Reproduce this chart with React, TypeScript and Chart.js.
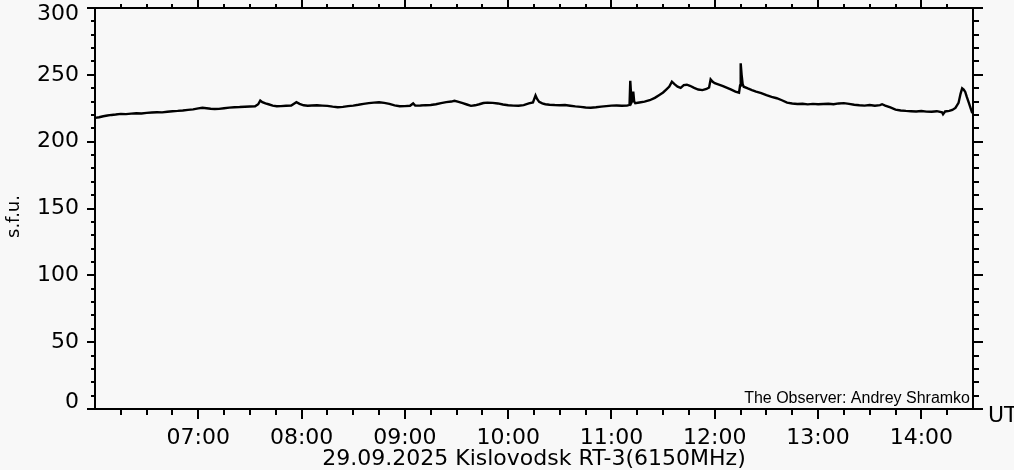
import React, { useEffect, useRef } from "react";
import { Chart, registerables } from "chart.js";

Chart.register(...registerables);

// Time (UT, decimal hours)
const timesUT: number[] = [
  6.0, 6.04, 6.08, 6.12, 6.16, 6.2, 6.25, 6.3, 6.35, 6.4, 6.45, 6.5, 6.55, 6.6, 6.65, 6.7, 6.75, 6.8, 6.85, 6.9, 6.95,
  7.0, 7.04, 7.08, 7.12, 7.16, 7.2, 7.25, 7.3, 7.35, 7.4, 7.45, 7.5, 7.55, 7.58, 7.6, 7.62, 7.65, 7.68, 7.72, 7.76, 7.8, 7.85, 7.9, 7.93, 7.95, 7.98,
  8.02, 8.06, 8.1, 8.15, 8.2, 8.25, 8.3, 8.35, 8.4, 8.45, 8.5, 8.55, 8.6, 8.65, 8.7, 8.75, 8.8, 8.85, 8.9, 8.95,
  9.0, 9.05, 9.08, 9.1, 9.15, 9.2, 9.25, 9.3, 9.35, 9.4, 9.45, 9.48, 9.52, 9.56, 9.6, 9.64, 9.68, 9.72, 9.76, 9.8, 9.85, 9.9, 9.95,
  10.0, 10.05, 10.1, 10.15, 10.2, 10.24, 10.265, 10.28, 10.3, 10.33, 10.36, 10.4, 10.45, 10.5, 10.55, 10.6, 10.65, 10.7, 10.75, 10.8, 10.85, 10.9, 10.95,
  11.0, 11.05, 11.1, 11.15, 11.175, 11.182, 11.19, 11.198, 11.205, 11.211, 11.22, 11.23, 11.27, 11.32, 11.37, 11.42, 11.46, 11.5, 11.53, 11.56, 11.585, 11.61, 11.64, 11.67, 11.7, 11.73, 11.76, 11.8, 11.84, 11.88, 11.92, 11.945, 11.96, 11.98,
  12.0, 12.04, 12.08, 12.12, 12.16, 12.2, 12.235, 12.245, 12.251, 12.26, 12.27, 12.28, 12.32, 12.36, 12.4, 12.45, 12.5, 12.55, 12.6, 12.65, 12.7, 12.75, 12.8, 12.85, 12.9, 12.95,
  13.0, 13.05, 13.1, 13.15, 13.2, 13.25, 13.3, 13.35, 13.4, 13.45, 13.5, 13.55, 13.6, 13.62, 13.65, 13.7, 13.75, 13.8, 13.85, 13.9, 13.95,
  14.0, 14.05, 14.1, 14.15, 14.2, 14.21, 14.23, 14.27, 14.3, 14.33, 14.36, 14.38, 14.395, 14.41, 14.425, 14.44, 14.46, 14.475, 14.49, 14.5,
];

// Flux (s.f.u.)
const fluxSFU: number[] = [
  217.8, 218.3, 219.0, 219.6, 220.0, 220.3, 220.8, 220.6, 221.0, 221.3, 221.1, 221.5, 221.8, 222.0, 221.9, 222.4, 222.8, 223.0, 223.3, 223.8, 224.2,
  224.9, 225.4, 225.0, 224.6, 224.4, 224.5, 225.0, 225.5, 225.8, 225.9, 226.1, 226.3, 226.5, 228.0, 230.8, 229.6, 228.6, 228.0, 227.0, 226.5, 226.6, 226.9, 227.0, 228.5, 229.5, 228.3,
  227.2, 226.9, 227.1, 227.2, 227.0, 226.8, 226.2, 225.8, 226.0, 226.6, 227.0, 227.6, 228.3, 228.8, 229.2, 229.5, 229.0, 228.3, 227.2, 226.5,
  226.6, 226.9, 228.6, 227.0, 227.1, 227.3, 227.4, 228.0, 228.8, 229.6, 230.0, 230.6, 229.8, 228.8, 227.8, 226.8, 227.2, 228.0, 228.9, 229.2, 229.0, 228.6, 227.8,
  227.2, 227.0, 226.9, 227.3, 228.6, 229.3, 234.6, 232.0, 229.8, 228.6, 228.0, 227.6, 227.4, 227.3, 227.4, 226.9, 226.4, 226.0, 225.6, 225.4, 225.7, 226.2, 226.6,
  227.0, 227.1, 226.9, 227.0, 227.5, 245.6, 235.0, 229.9, 231.0, 237.4, 230.0, 228.8, 229.3, 229.9, 231.0, 232.8, 234.8, 236.8, 239.0, 241.2, 244.9, 243.0, 241.2, 240.3, 242.3, 242.6, 241.8, 240.2, 239.0, 238.6, 239.4, 240.5, 246.6, 244.8,
  243.7, 242.6, 241.5, 240.2, 238.9, 237.5, 236.6, 242.0, 258.6, 250.0, 243.0, 241.1, 239.8, 238.6, 237.5, 236.3, 234.8, 233.5, 232.5, 231.0, 229.2, 228.6, 228.2, 228.4, 227.9, 228.3,
  228.0, 228.2, 228.4, 228.0, 228.6, 228.8, 228.3, 227.6, 227.2, 227.0, 227.4, 226.9, 227.3, 228.0, 227.0, 225.6, 224.0, 223.3, 223.0, 222.8, 222.6,
  222.9, 222.5, 222.4, 222.8, 222.0, 220.5, 222.6, 223.0, 223.7, 225.2, 229.0, 236.0, 239.9, 239.0, 237.2, 233.5, 229.0, 225.5, 222.0, 221.5,
];

const xTickHours: number[] = [7, 8, 9, 10, 11, 12, 13, 14];
const xTickLabels: string[] = ["07:00", "08:00", "09:00", "10:00", "11:00", "12:00", "13:00", "14:00"];
const yTickValues: number[] = [0, 50, 100, 150, 200, 250, 300];
const X_MIN = 6;
const X_MAX = 14.5;
const Y_MIN = 0;
const Y_MAX = 300;

const xTitle = "29.09.2025 Kislovodsk RT-3(6150MHz)";
const yTitle = "s.f.u.";
const unitLabel = "UT";
const observerLabel = "The Observer: Andrey Shramko";

const FONT = "'DejaVu Sans', sans-serif";
const BG = "#f8f8f8";

const noPad = (s: any) => {
  s.paddingTop = 0;
  s.paddingBottom = 0;
  s.paddingLeft = 0;
  s.paddingRight = 0;
};

const bgPlugin = {
  id: "bgPlugin",
  beforeDraw(chart: any) {
    const { ctx, width, height } = chart;
    ctx.save();
    ctx.fillStyle = BG;
    ctx.fillRect(0, 0, width, height);
    ctx.restore();
    // keep the extreme y labels inside the plot height (as in the original plot)
    const ys = chart.scales.y;
    const items = ys.getLabelItems(chart.chartArea);
    if (items && items.length) {
      items.forEach((it: any) => {
        const tr = it.options && it.options.translation;
        if (!tr) return;
        if (Math.abs(tr[1] - chart.chartArea.top) < 1) tr[1] += 6;
        if (Math.abs(tr[1] - chart.chartArea.bottom) < 1) tr[1] -= 6.5;
      });
    }
  },
};

const ticksPlugin = {
  id: "ticksPlugin",
  afterDraw(chart: any) {
    const { ctx, chartArea: a, scales } = chart;
    const xs = scales.x;
    const ys = scales.y;
    ctx.save();
    ctx.strokeStyle = "#000";
    ctx.lineWidth = 2;
    ctx.beginPath();
    // x ticks every 15 min
    for (let i = 1; X_MIN + i * 0.25 < X_MAX - 1e-9; i++) {
      const v = X_MIN + i * 0.25;
      const px = Math.round(xs.getPixelForValue(v));
      const major = Math.abs(v - Math.round(v)) < 1e-9;
      ctx.moveTo(px, a.bottom);
      ctx.lineTo(px, a.bottom + (major ? 10 : 6));
      ctx.moveTo(px, a.top);
      ctx.lineTo(px, a.top - (major ? 8 : 4));
    }
    // y ticks every 10 units
    for (let v = Y_MIN; v <= Y_MAX; v += 10) {
      const py = Math.round(ys.getPixelForValue(v));
      const major = v % 50 === 0;
      ctx.moveTo(a.left, py);
      ctx.lineTo(a.left - (major ? 8 : 4), py);
      ctx.moveTo(a.right, py);
      ctx.lineTo(a.right + (major ? 10 : 6), py);
    }
    ctx.stroke();

    ctx.fillStyle = "#000";
    // observer note
    ctx.font = "16px 'Liberation Sans', sans-serif";
    ctx.textAlign = "right";
    ctx.textBaseline = "alphabetic";
    ctx.fillText(observerLabel, a.right - 3, a.bottom - 6);

    // unit label
    ctx.font = "22px " + FONT;
    ctx.textAlign = "left";
    ctx.textBaseline = "middle";
    ctx.fillText(unitLabel, a.right + 15, a.bottom + 7);

    // y-axis title
    ctx.save();
    ctx.translate(14, (a.top + a.bottom) / 2 + 8);
    ctx.rotate(-Math.PI / 2);
    ctx.font = "18px " + FONT;
    ctx.textAlign = "center";
    ctx.textBaseline = "middle";
    ctx.fillText(yTitle, 0, 0);
    ctx.restore();

    ctx.restore();
  },
};

export default function App() {
  const ref = useRef<HTMLCanvasElement | null>(null);

  useEffect(() => {
    if (!ref.current) return;
    const points = timesUT.map((t, i) => ({ x: t, y: fluxSFU[i] }));
    const chart = new Chart(ref.current, {
      type: "line",
      data: {
        datasets: [
          {
            data: points,
            borderColor: "#000",
            borderWidth: 2.4,
            pointRadius: 0,
            tension: 0,
            fill: false,
          },
        ],
      },
      options: {
        animation: false,
        responsive: false,
        maintainAspectRatio: false,
        layout: { padding: 0 },
        plugins: {
          legend: { display: false },
          tooltip: { enabled: false },
          title: { display: false },
        },
        scales: {
          x: {
            type: "linear",
            position: "bottom",
            min: X_MIN,
            max: X_MAX,
            afterBuildTicks: (s: any) => {
              s.ticks = xTickHours.map((v) => ({ value: v }));
            },
            afterFit: (s: any) => {
              s.height = 61;
              noPad(s);
            },
            grid: { display: false, drawTicks: false },
            border: { display: true, color: "#000", width: 2 },
            ticks: {
              autoSkip: false,
              maxRotation: 0,
              minRotation: 0,
              padding: 16,
              color: "#000",
              font: { family: FONT, size: 22, lineHeight: 1.2 },
              callback: (v: any) => {
                const idx = xTickHours.indexOf(Number(v));
                return idx >= 0 ? xTickLabels[idx] : "";
              },
            },
            title: {
              display: true,
              text: xTitle,
              color: "#000",
              font: { family: FONT, size: 22, lineHeight: 1.0 },
              padding: { top: 0, bottom: 0 },
            },
          },
          xTop: {
            type: "linear",
            position: "top",
            min: X_MIN,
            max: X_MAX,
            afterFit: (s: any) => {
              s.height = 8;
              noPad(s);
            },
            grid: { display: false, drawTicks: false },
            border: { display: true, color: "#000", width: 2 },
            ticks: { display: false },
          },
          y: {
            type: "linear",
            position: "left",
            min: Y_MIN,
            max: Y_MAX,
            afterBuildTicks: (s: any) => {
              s.ticks = yTickValues.map((v) => ({ value: v }));
            },
            afterFit: (s: any) => {
              s.width = 95;
              noPad(s);
            },
            grid: { display: false, drawTicks: false },
            border: { display: true, color: "#000", width: 2 },
            ticks: {
              autoSkip: false,
              padding: 16,
              color: "#000",
              font: { family: FONT, size: 22 },
            },
          },
          yRight: {
            type: "linear",
            position: "right",
            min: Y_MIN,
            max: Y_MAX,
            afterFit: (s: any) => {
              s.width = 41;
              noPad(s);
            },
            grid: { display: false, drawTicks: false },
            border: { display: true, color: "#000", width: 2 },
            ticks: { display: false },
          },
        },
      },
      plugins: [bgPlugin, ticksPlugin],
    });
    return () => chart.destroy();
  }, []);

  return (
    <div style={{ position: "fixed", left: 0, top: 0, width: 1014, height: 470, background: BG }}>
      <canvas ref={ref} width={1014} height={470} style={{ display: "block" }} />
    </div>
  );
}
